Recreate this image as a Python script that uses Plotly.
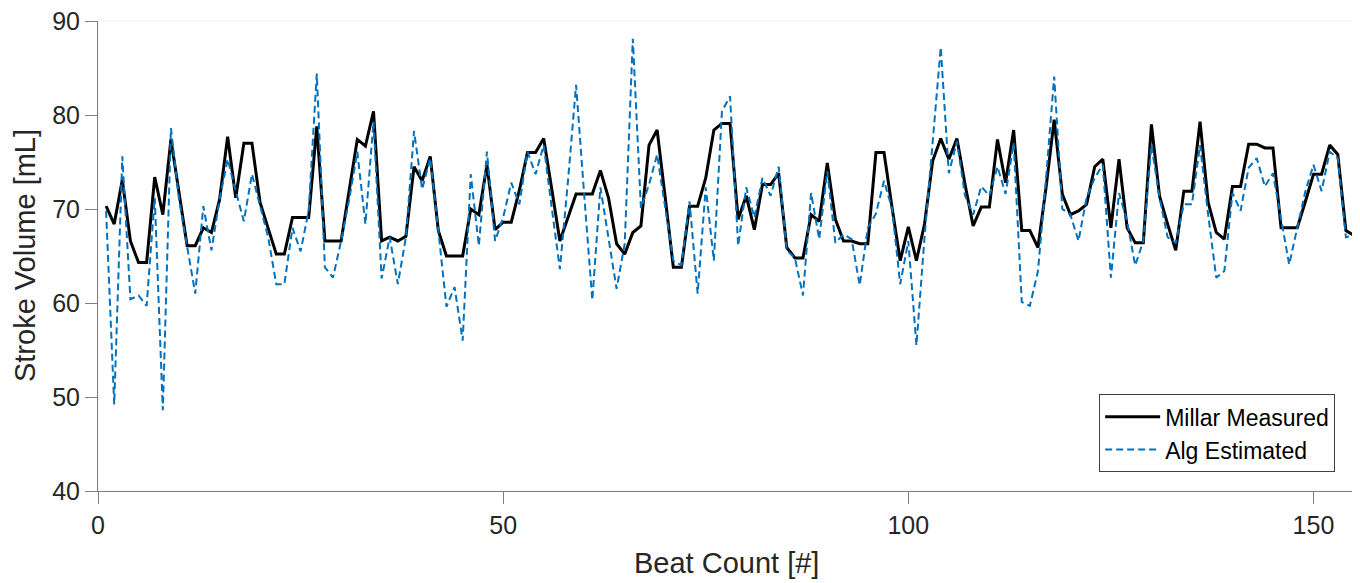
import plotly.graph_objects as go

beats = list(range(1, 156))

millar_measured = [
    70.3, 68.4, 73.1, 66.6, 64.3, 64.3, 73.4, 69.4, 77.4, 71.6,
    66.1, 66.1, 68.0, 67.5, 71.0, 77.7, 71.2, 77.0, 77.0, 70.7,
    68.0, 65.2, 65.2, 69.1, 69.1, 69.1, 78.8, 66.6, 66.6, 66.6,
    72.0, 77.4, 76.7, 80.4, 66.6, 67.0, 66.6, 67.1, 74.5, 73.0,
    75.6, 67.7, 65.0, 65.0, 65.0, 70.0, 69.4, 74.7, 67.8, 68.6,
    68.6, 72.0, 76.0, 76.0, 77.5, 72.1, 66.6, 69.1, 71.6, 71.6,
    71.6, 74.1, 71.2, 66.3, 65.2, 67.5, 68.2, 76.8, 78.4, 71.2,
    63.8, 63.8, 70.3, 70.3, 73.3, 78.4, 79.1, 79.1, 68.9, 71.4,
    67.8, 72.6, 72.6, 73.8, 65.9, 64.8, 64.8, 69.4, 68.7, 74.9,
    68.9, 66.6, 66.6, 66.3, 66.3, 76.0, 76.0, 70.1, 64.5, 68.1,
    64.5, 68.4, 75.1, 77.5, 75.3, 77.5, 72.6, 68.2, 70.2, 70.2,
    77.4, 72.8, 78.4, 67.7, 67.7, 65.9, 72.3, 79.5, 71.6, 69.4,
    69.8, 70.5, 74.5, 75.3, 68.0, 75.3, 68.0, 66.4, 66.4, 79.0,
    71.4, 68.4, 65.6, 71.9, 71.9, 79.3, 70.7, 67.5, 66.8, 72.4,
    72.4, 76.9, 76.9, 76.5, 76.5, 68.0, 68.0, 68.0, 70.8, 73.7,
    73.7, 76.8, 75.8, 67.7, 67.2,
]

alg_estimated = [
    69.8, 49.2, 75.6, 60.4, 60.8, 59.7, 71.2, 48.6, 78.6, 71.0,
    66.0, 61.0, 70.3, 65.6, 71.0, 75.3, 71.9, 68.7, 73.7, 70.5,
    67.0, 62.0, 62.0, 68.0, 65.5, 69.8, 84.4, 63.8, 62.7, 66.6,
    71.0, 76.1, 68.4, 79.3, 62.6, 67.0, 62.0, 67.0, 78.3, 72.1,
    75.4, 67.7, 59.6, 61.7, 56.0, 73.7, 66.1, 76.1, 66.6, 69.1,
    72.8, 70.5, 76.1, 73.7, 76.8, 70.1, 63.6, 73.0, 83.2, 71.5,
    60.3, 72.3, 67.0, 61.5, 66.3, 88.1, 70.1, 72.6, 75.8, 70.0,
    64.5, 64.0, 70.8, 61.0, 72.3, 64.5, 80.4, 82.0, 66.1, 72.3,
    69.1, 73.3, 71.4, 74.5, 65.6, 64.8, 60.8, 71.7, 66.8, 74.0,
    66.4, 67.3, 66.8, 61.9, 68.0, 69.5, 73.0, 70.0, 62.0, 66.6,
    55.5, 67.0, 77.2, 87.2, 73.8, 77.2, 71.4, 69.4, 72.4, 71.4,
    74.5, 71.6, 77.0, 60.1, 59.7, 63.4, 73.3, 84.1, 70.0, 69.4,
    66.6, 71.2, 73.3, 74.7, 62.7, 71.7, 68.7, 64.0, 66.6, 76.8,
    71.2, 67.0, 66.4, 70.5, 70.5, 76.8, 69.4, 62.7, 63.4, 71.7,
    69.8, 74.4, 75.4, 72.4, 73.8, 69.1, 64.1, 68.0, 71.9, 74.7,
    71.9, 76.1, 75.4, 67.0, 67.2,
]

x_ticks = [0, 50, 100, 150]
y_ticks = [40, 50, 60, 70, 80, 90]
x_title = "Beat Count [#]"
y_title = "Stroke Volume [mL]"

FONT = "Liberation Sans, Arial, sans-serif"
TXT = "#262626"
AX = "#7f7f7f"

fig = go.Figure()
fig.add_trace(go.Scatter(
    x=beats, y=millar_measured, mode="lines", name="Millar Measured",
    line=dict(color="#000000", width=3),
))
fig.add_trace(go.Scatter(
    x=beats, y=alg_estimated, mode="lines", name="Alg Estimated",
    line=dict(color="#0072BD", width=2, dash="7px,4px"),
))

fig.update_layout(
    width=1352, height=577,
    margin=dict(l=90, r=6, t=13, b=94),
    paper_bgcolor="white", plot_bgcolor="white",
    font=dict(family=FONT, color=TXT, size=25),
    showlegend=True,
    legend=dict(
        x=0.985, y=0.04, xanchor="right", yanchor="bottom",
        bgcolor="white", bordercolor="#404040", borderwidth=1,
        font=dict(family=FONT, size=23, color="#000000"),
        itemwidth=55, tracegroupgap=0,
    ),
    shapes=[dict(
        type="rect", xref="paper", yref="paper", x0=0, y0=0, x1=1, y1=1,
        line=dict(color="#f0f0f0", width=1), layer="below",
    )],
    annotations=[
        dict(text=x_title, xref="paper", yref="paper", x=0.5, y=-0.153,
             xanchor="center", yanchor="middle", showarrow=False,
             font=dict(family=FONT, size=29, color=TXT)),
        dict(text=y_title, xref="paper", yref="paper", x=-0.0581, y=0.5,
             xanchor="center", yanchor="middle", showarrow=False, textangle=-90,
             font=dict(family=FONT, size=29, color=TXT)),
    ],
)

fig.update_xaxes(
    range=[0, 155], tickvals=x_ticks, ticktext=[str(v) for v in x_ticks],
    showgrid=False, zeroline=False, showline=True, linecolor=AX, linewidth=1,
    ticks="outside", ticklen=12, tickcolor=AX, tickwidth=1, automargin=False,
    ticklabeloverflow="allow",
    tickfont=dict(family=FONT, size=25, color=TXT),
)
fig.update_yaxes(
    range=[40, 90], tickvals=y_ticks, ticktext=[str(v) for v in y_ticks],
    showgrid=False, zeroline=False, showline=True, linecolor=AX, linewidth=1,
    ticks="outside", ticklen=12, tickcolor=AX, tickwidth=1, automargin=False,
    ticklabeloverflow="allow",
    tickfont=dict(family=FONT, size=25, color=TXT),
)

fig.write_html("out.html")
